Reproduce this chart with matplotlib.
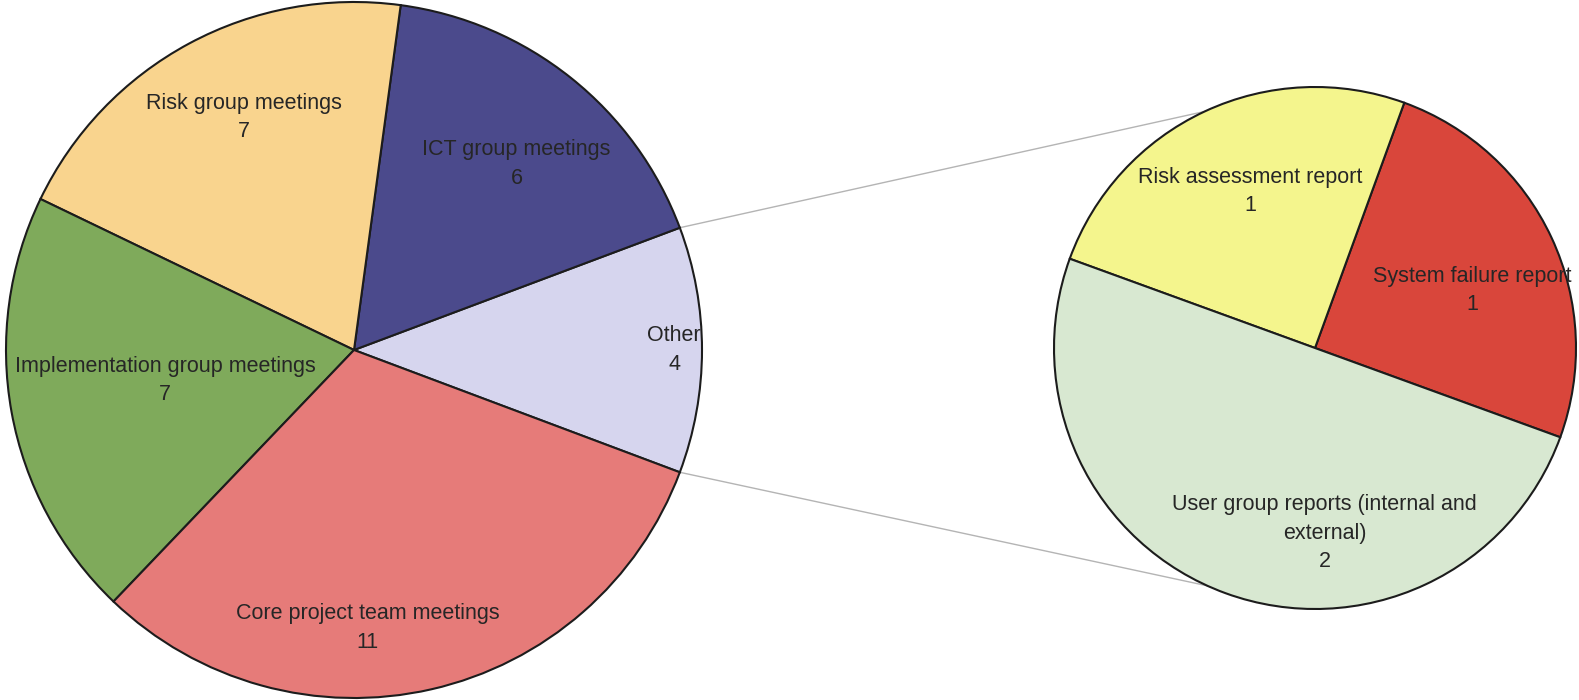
import numpy as np
import matplotlib.pyplot as plt

# main breakdown, "Other" is split out into the small pie on the right
main_labels = ["Other", "ICT group meetings", "Risk group meetings",
               "Implementation group meetings", "Core project team meetings"]
main_values = [4, 6, 7, 7, 11]

other_labels = ["System failure report", "Risk assessment report",
                "User group reports (internal and\nexternal)"]
other_values = [1, 1, 2]

main_colors = ["#d6d5ee", "#4b4a8c", "#f9d48e", "#7faa5b", "#e67b79"]
other_colors = ["#d9463b", "#f4f58d", "#d8e8d1"]

plt.rcParams["font.family"] = ["Liberation Sans", "DejaVu Sans"]

fig = plt.figure(figsize=(15.79, 7.0), dpi=100)
ax = fig.add_axes([0, 0, 1, 1])

main_center, main_radius = (354, 350), 348
other_center, other_radius = (1315, 352), 261
wedge_style = dict(edgecolor="#1c1c1c", linewidth=1.5)

half_other = 360 * main_values[0] / sum(main_values) / 2
main_wedges, _ = ax.pie(main_values, colors=main_colors, center=main_center,
                        radius=main_radius, startangle=-half_other,
                        wedgeprops=wedge_style)
other_wedges, _ = ax.pie(other_values, colors=other_colors, center=other_center,
                         radius=other_radius, startangle=-20,
                         wedgeprops=wedge_style)


def put_labels(wedges, labels, values, center, radius, places):
    for w, lab, val, (frac, shift) in zip(wedges, labels, values, places):
        ang = np.deg2rad((w.theta1 + w.theta2) / 2 + shift)
        x = center[0] + frac * radius * np.cos(ang)
        y = center[1] + frac * radius * np.sin(ang)
        ax.text(x, y, f"{lab}\n{val}", ha="center", va="center",
                fontsize=15.5, color="#262626", linespacing=1.45, zorder=5)


put_labels(main_wedges, main_labels, main_values, main_center, main_radius,
           [(0.92, 0), (0.71, -2.6), (0.74, -3), (0.55, -1), (0.80, -10)])
put_labels(other_wedges, other_labels, other_values, other_center, other_radius,
           [(0.64, -5), (0.65, -2.5), (0.71, 23)])

# connector lines from the "Other" slice to the top/bottom of the second pie
w = main_wedges[0]
for theta, sign in [(w.theta2, 1), (w.theta1, -1)]:
    t = np.deg2rad(theta)
    x0 = main_center[0] + main_radius * np.cos(t)
    y0 = main_center[1] + main_radius * np.sin(t)
    ax.plot([x0, other_center[0]], [y0, other_center[1] + sign * other_radius],
            color="#b4b4b4", lw=1.0, zorder=0.5)

ax.set_xlim(0, 1579)
ax.set_ylim(0, 700)
ax.set_aspect("equal")
ax.axis("off")

fig.savefig("out.png", dpi=100, facecolor="white")
